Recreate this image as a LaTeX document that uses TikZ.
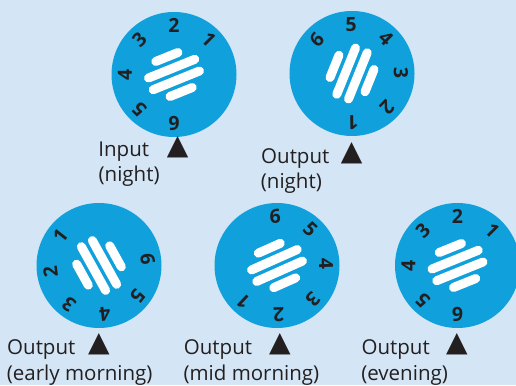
\documentclass[tikz,border=0pt]{standalone}
\usepackage{fontspec}
\usetikzlibrary{calc}
\setmainfont{Open Sans}
\newfontfamily\symfont{DejaVu Sans}
\definecolor{bg}{RGB}{212,230,246}
\definecolor{discblue}{RGB}{16,160,219}
\definecolor{ink}{RGB}{35,31,32}
\begin{document}
\begin{tikzpicture}[x=1pt,y=1pt,
  disc/.style={circle, fill=discblue, minimum size=125pt, inner sep=0pt},
  stripe/.style={white, line width=9pt, line cap=round},
  digit/.style={text=ink, font=\fontsize{19.5}{21}\selectfont\bfseries, inner sep=0pt},
  caption/.style={text=ink, font=\fontsize{20.5}{25}\selectfont, inner sep=0pt, anchor=base west},
  marker/.style={text=ink, font=\symfont\fontsize{28}{28}\selectfont, inner sep=0pt, anchor=south}
]
% canvas
\fill[bg] (0,0) rectangle (516,385);
\useasboundingbox (0,0) rectangle (516,385);

% dials: name / centre x / centre y / turn
\foreach \n/\cx/\cy/\r in {a/174/310.5/0, b/352/311.5/-134, c/99/119.5/97, d/277/119.5/182, e/457.5/119.5/0} {
  \node[disc] (disc\n) at (\cx,\cy) {};
  \begin{scope}[shift={(\cx,\cy)}, rotate={\r+22}]
    \draw[stripe] (-12,18.9) -- (12,18.9);
    \draw[stripe] (-25,6.3) -- (25,6.3);
    \draw[stripe] (-25,-6.3) -- (25,-6.3);
    \draw[stripe] (-12,-18.9) -- (12,-18.9);
  \end{scope}
  \foreach \k in {1,...,6}
    \node[digit, rotate={45*\k-90+\r}] (\n\k) at ($(\cx,\cy)+({45*\k+\r}:49)$) {\k};
}

% captions
\node[caption] (capa1) at (98.2,228.3) {Input};
\node[caption] (capa2) at (98.4,203.3) {(night)};
\node[marker] (mka) at (177.7,226.7) {▲};

\node[caption] (capb1) at (261,221) {Output};
\node[caption] (capb2) at (260.7,196) {(night)};
\node[marker] (mkb) at (351.7,221) {▲};

\node[caption] (capc1) at (7,30) {Output};
\node[caption] (capc2) at (6.7,5) {(early morning)};
\node[marker] (mkc) at (98.8,29.7) {▲};

\node[caption] (capd1) at (183.7,30) {Output};
\node[caption] (capd2) at (183.4,5) {(mid morning)};
\node[marker] (mkd) at (280,29.7) {▲};

\node[caption] (cape1) at (361.4,30) {Output};
\node[caption] (cape2) at (361.1,5) {(evening)};
\node[marker] (mke) at (457,29.7) {▲};
\end{tikzpicture}
\end{document}
